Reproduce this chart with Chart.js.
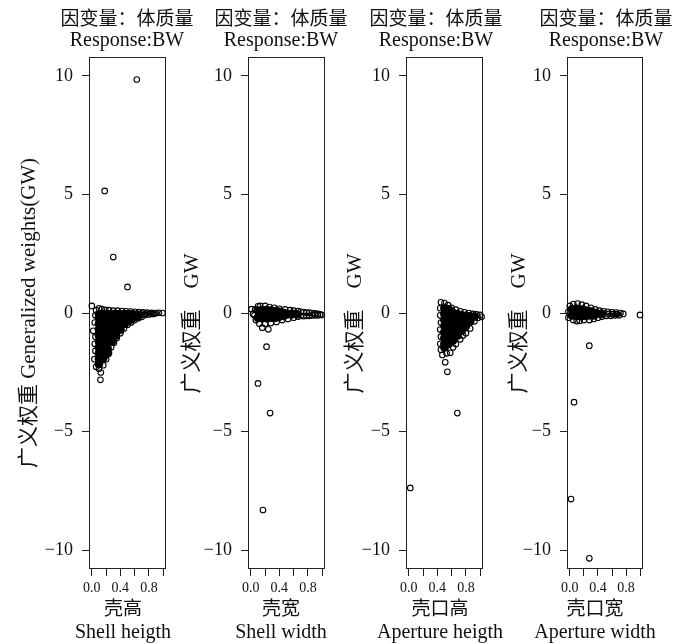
<!DOCTYPE html>
<html>
<head>
<meta charset="utf-8">
<script src="https://cdn.jsdelivr.net/npm/chart.js@4.4.0/dist/chart.umd.min.js"></script>
<style>
    body { margin: 0; background: #fff; }
    #wrap { position: relative; width: 675px; height: 644px; }
    #wrap canvas { position: absolute; left: 0; top: 0; }
</style>
</head>
<body>
<div id="wrap">
    <canvas id="panel1" width="675" height="644"></canvas>
    <canvas id="panel2" width="675" height="644"></canvas>
    <canvas id="panel3" width="675" height="644"></canvas>
    <canvas id="panel4" width="675" height="644"></canvas>
</div>
<script>
const SERIF = "'Liberation Serif', 'Noto Sans CJK SC', serif";
const INK = '#111';

// --- Axis ticks ---
const xTicks = [0, 0.2, 0.4, 0.6, 0.8, 1.0];
const xTickLabels = ['0.0', '', '0.4', '', '0.8', ''];
const yTicks = [-10, -5, 0, 5, 10];

// --- Texts ---
const titleCn = '因变量：体质量';
const titleEn = 'Response:BW';
const xTitlesCn = ['壳高', '壳宽', '壳口高', '壳口宽'];
const xTitlesEn = ['Shell heigth', 'Shell width', 'Aperture heigth', 'Aperture width'];
// full-width spaces as in the original typesetting (trailing one keeps the label a bit lower)
const yTitles = ['广义权重 Generalized weights(GW)', '广义权重\u3000GW\u3000', '广义权重\u3000GW\u3000', '广义权重\u3000GW\u3000'];

// --- Data: [covariate, generalized weight] ---
// "core" = the solid black body of each cloud, "pts" = edge and outlying points
const shellHeightCore = [
    [0.10, -0.05], [0.10, -0.2], [0.10, -0.45], [0.10, -0.7], [0.10, -0.95], [0.10, -1.2], [0.10, -1.45], [0.10, -1.7], [0.10, -1.95], [0.10, -2.15],
    [0.16, -0.05], [0.16, -0.2], [0.16, -0.45], [0.16, -0.7], [0.16, -0.95], [0.16, -1.2], [0.16, -1.45], [0.16, -1.7], [0.16, -1.9],
    [0.22, -0.05], [0.22, -0.25], [0.22, -0.5], [0.22, -0.75], [0.22, -1.0], [0.22, -1.25], [0.22, -1.5], [0.22, -1.7],
    [0.28, -0.05], [0.28, -0.25], [0.28, -0.5], [0.28, -0.75], [0.28, -1.0], [0.28, -1.2],
    [0.34, -0.05], [0.34, -0.25], [0.34, -0.5], [0.34, -0.75], [0.34, -0.95],
    [0.40, -0.05], [0.40, -0.25], [0.40, -0.5], [0.40, -0.7],
    [0.46, -0.05], [0.46, -0.22], [0.46, -0.45],
    [0.52, -0.05], [0.52, -0.2], [0.52, -0.33],
    [0.58, -0.06], [0.58, -0.2],
    [0.64, -0.07], [0.64, -0.15]
];
const shellHeightPts = [
    [0.06, 0.12], [0.10, 0.2], [0.14, 0.16], [0.19, 0.13], [0.24, 0.12], [0.30, 0.1], [0.36, 0.1], [0.42, 0.08], [0.48, 0.07],
    [0.54, 0.06], [0.60, 0.05], [0.66, 0.04], [0.72, 0.03], [0.78, 0.02], [0.84, 0.01], [0.90, 0.0], [0.94, 0.01],
    [0.68, -0.1], [0.74, -0.08], [0.80, -0.06], [0.86, -0.04], [0.70, -0.02], [0.76, -0.03], [0.82, -0.02], [0.88, -0.02],
    [0.05, -0.1], [0.04, -0.4], [0.02, -0.75], [0.05, -1.0], [0.04, -1.3], [0.05, -1.6], [0.036, -1.95], [0.06, -2.27],
    [0.10, -2.35], [0.126, -2.51], [0.12, -2.82], [0.16, -2.2], [0.09, -1.2],
    [0.20, -1.95], [0.24, -1.7], [0.27, -1.45], [0.31, -1.25], [0.35, -1.05], [0.40, -0.85], [0.45, -0.65], [0.50, -0.5],
    [0.55, -0.4], [0.60, -0.3], [0.65, -0.22], [0.70, -0.16],
    [0.63, 9.85], [0.18, 5.15], [0.30, 2.36], [0.50, 1.1], [0.0, 0.3], [0.99, 0.0]
];

const shellWidthCore = [
    [0.10, 0.1], [0.10, -0.2], [0.16, 0.12], [0.16, -0.22], [0.22, 0.12], [0.22, -0.22], [0.28, 0.1], [0.28, -0.2],
    [0.34, 0.08], [0.34, -0.2], [0.40, 0.05], [0.40, -0.15], [0.46, 0.0], [0.46, -0.12],
    [0.52, -0.05], [0.58, -0.05], [0.64, -0.05]
];
const shellWidthPts = [
    [0.66, 0.08], [0.66, -0.15], [0.70, 0.05], [0.70, -0.12], [0.74, 0.04], [0.74, -0.13], [0.78, 0.02], [0.78, -0.12],
    [0.82, 0.02], [0.82, -0.12], [0.86, 0.0], [0.86, -0.1], [0.90, -0.02], [0.90, -0.1], [0.94, -0.04], [0.94, -0.1], [0.97, -0.06],
    [0.06, 0.15], [0.05, -0.1], [0.07, -0.3], [0.10, 0.28], [0.20, 0.3], [0.26, 0.25], [0.33, 0.22], [0.40, 0.18], [0.48, 0.15],
    [0.55, 0.12], [0.60, 0.1], [0.12, -0.45], [0.20, -0.45], [0.28, -0.42], [0.36, -0.38], [0.44, -0.3], [0.52, -0.25], [0.60, -0.2],
    [0.01, 0.16], [0.03, -0.04], [0.13, 0.3], [0.16, -0.62], [0.245, -0.69], [0.22, -1.42], [0.10, -2.97], [0.99, -0.08],
    [0.27, -4.22], [0.17, -8.31]
];

const apertureHeightCore = [
    [0.50, 0.2], [0.50, -0.05], [0.50, -0.3], [0.50, -0.55], [0.50, -0.8], [0.50, -1.05], [0.50, -1.3], [0.50, -1.45],
    [0.56, 0.15], [0.56, -0.1], [0.56, -0.35], [0.56, -0.6], [0.56, -0.85], [0.56, -1.1], [0.56, -1.3],
    [0.62, 0.0], [0.62, -0.25], [0.62, -0.5], [0.62, -0.75], [0.62, -1.0], [0.62, -1.15],
    [0.68, -0.05], [0.68, -0.3], [0.68, -0.55], [0.68, -0.8], [0.68, -0.95],
    [0.74, -0.1], [0.74, -0.35], [0.74, -0.6], [0.74, -0.75],
    [0.80, -0.12], [0.80, -0.35], [0.80, -0.55],
    [0.86, -0.15], [0.86, -0.35],
    [0.92, -0.15]
];
const apertureHeightPts = [
    [0.45, 0.45], [0.44, 0.2], [0.44, -0.1], [0.45, -0.4], [0.44, -0.7], [0.45, -1.0], [0.44, -1.3], [0.45, -1.55],
    [0.50, 0.42], [0.55, 0.33], [0.60, 0.22], [0.66, 0.14], [0.72, 0.07], [0.78, 0.03], [0.84, 0.0], [0.90, -0.04],
    [0.95, -0.06], [1.0, -0.08], [1.02, -0.16], [0.97, -0.2], [0.92, -0.35], [0.86, -0.65], [0.80, -0.85], [0.76, -0.95],
    [0.72, -1.11], [0.66, -1.31], [0.62, -1.45], [0.58, -1.68], [0.47, -1.77], [0.51, -2.08], [0.54, -2.48], [0.53, -1.7],
    [0.02, -7.38], [0.68, -4.22]
];

const apertureWidthCore = [
    [0.03, 0.15], [0.03, -0.1], [0.09, 0.18], [0.09, -0.12], [0.15, 0.15], [0.15, -0.12], [0.21, 0.12], [0.21, -0.12],
    [0.27, 0.08], [0.27, -0.1], [0.33, 0.02], [0.33, -0.1], [0.39, -0.03], [0.45, -0.03]
];
const apertureWidthPts = [
    [0.0, 0.3], [-0.02, 0.05], [-0.02, -0.2], [0.05, 0.38], [0.11, 0.4], [0.17, 0.35], [0.23, 0.3], [0.30, 0.22], [0.36, 0.15],
    [0.42, 0.1], [0.48, 0.07], [0.54, 0.05], [0.60, 0.03], [0.66, 0.02], [0.72, 0.0], [0.76, -0.04], [0.70, -0.1], [0.64, -0.1],
    [0.58, -0.12], [0.52, -0.12], [0.46, -0.15], [0.40, -0.2], [0.34, -0.25], [0.28, -0.3], [0.20, -0.3], [0.14, -0.33],
    [0.098, -0.34], [0.05, -0.3], [0.55, -0.04], [0.61, -0.05], [0.67, -0.05],
    [0.997, -0.08], [0.277, -1.38], [0.06, -3.76], [0.017, -7.85], [0.277, -10.35]
];

const coreSets = [shellHeightCore, shellWidthCore, apertureHeightCore, apertureWidthCore];
const pointSets = [shellHeightPts, shellWidthPts, apertureHeightPts, apertureWidthPts];

// plot box of each panel (left, right in px), width of the y axis block,
// centres of the heading and of the x caption
const panels = [
    { left: 89, right: 166, yAxisWidth: 72, titleX: 127, xTitleX: 123 },
    { left: 248, right: 325, yAxisWidth: 68, titleX: 281, xTitleX: 281 },
    { left: 406, right: 483, yAxisWidth: 63, titleX: 436, xTitleX: 440 },
    { left: 567, right: 643, yAxisWidth: 60, titleX: 606, xTitleX: 595 }
];
const BOX_TOP = 57;
const BOX_BOTTOM = 569;
const X_AXIS_HEIGHT = 30;

// Box around the plotting region
const boxBorder = {
    id: 'boxBorder',
    beforeDatasetsDraw(chart) {
        const { ctx, chartArea: a } = chart;
        ctx.save();
        ctx.strokeStyle = '#222';
        ctx.lineWidth = 1;
        ctx.strokeRect(a.left + 0.5, a.top + 0.5, a.width - 1, a.height - 1);
        ctx.restore();
    }
};

// Two-line heading above each panel and two-line caption under the x axis
const panelTexts = {
    id: 'panelTexts',
    afterDraw(chart, args, opts) {
        const ctx = chart.ctx;
        ctx.save();
        ctx.fillStyle = INK;
        ctx.textAlign = 'center';
        ctx.textBaseline = 'middle';
        ctx.font = `19px ${SERIF}`;
        ctx.fillText(titleCn, opts.titleX, 20);
        ctx.fillText(opts.xCn, opts.xTitleX, 610);
        ctx.font = `20px ${SERIF}`;
        ctx.fillText(titleEn, opts.titleX, 41);
        ctx.fillText(opts.xEn, opts.xTitleX, 633);
        ctx.restore();
    }
};

function minusSign(v) {
    return v < 0 ? '\u2212' + Math.abs(v) : String(v);
}

function makePanel(i) {
    const p = panels[i];
    const ctx = document.getElementById('panel' + (i + 1)).getContext('2d');
    return new Chart(ctx, {
        type: 'scatter',
        data: {
            datasets: [{
                data: coreSets[i],
                pointRadius: 4,
                pointBorderWidth: 1,
                pointBackgroundColor: '#000',
                pointBorderColor: '#000',
                clip: false
            }, {
                data: pointSets[i],
                pointRadius: 2.8,
                pointBorderWidth: 1.1,
                pointBackgroundColor: 'rgba(0,0,0,0)',
                pointBorderColor: '#000',
                clip: false
            }]
        },
        plugins: [boxBorder, panelTexts],
        options: {
            responsive: false,
            animation: false,
            devicePixelRatio: 1,
            events: [],
            layout: {
                padding: {
                    left: p.left - p.yAxisWidth,
                    right: 675 - p.right,
                    top: BOX_TOP,
                    bottom: 644 - BOX_BOTTOM - X_AXIS_HEIGHT
                }
            },
            plugins: {
                legend: { display: false },
                tooltip: { enabled: false },
                panelTexts: { titleX: p.titleX, xTitleX: p.xTitleX, xCn: xTitlesCn[i], xEn: xTitlesEn[i] }
            },
            scales: {
                x: {
                    type: 'linear',
                    min: -0.04,
                    max: 1.04,
                    afterBuildTicks: s => { s.ticks = xTicks.map(v => ({ value: v })); },
                    afterFit: s => { s.height = X_AXIS_HEIGHT; },
                    ticks: {
                        autoSkip: false,
                        maxRotation: 0,
                        padding: 4,
                        color: INK,
                        font: { family: SERIF, size: 14 },
                        callback: (v, idx) => xTickLabels[idx]
                    },
                    grid: { drawOnChartArea: false, tickLength: 7, color: '#222' },
                    border: { display: false }
                },
                y: {
                    type: 'linear',
                    min: -10.8,
                    max: 10.8,
                    afterBuildTicks: s => { s.ticks = yTicks.map(v => ({ value: v })); },
                    afterFit: s => { s.width = p.yAxisWidth; },
                    ticks: {
                        padding: 9,
                        color: INK,
                        font: { family: SERIF, size: 18 },
                        callback: v => minusSign(v)
                    },
                    grid: { drawOnChartArea: false, tickLength: 7, color: '#222' },
                    border: { display: false },
                    title: {
                        display: true,
                        text: yTitles[i],
                        color: INK,
                        font: { family: SERIF, size: 21, lineHeight: 1.2 },
                        padding: 0
                    }
                }
            }
        }
    });
}

panels.forEach((p, i) => makePanel(i));
</script>
</body>
</html>
